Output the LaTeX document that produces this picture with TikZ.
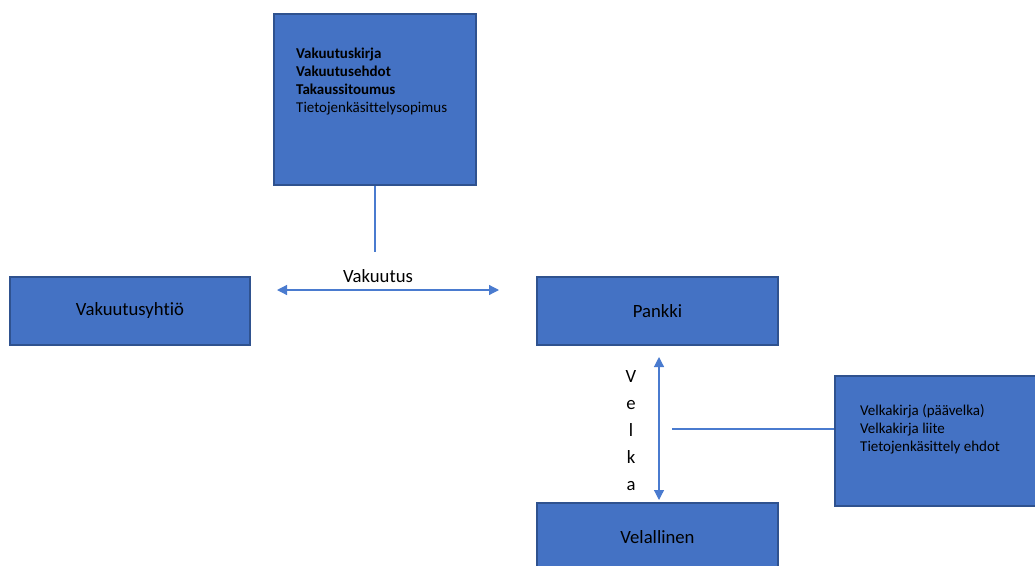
\documentclass[tikz,border=0pt]{standalone}
\usepackage{fontspec}
\setmainfont{Carlito}[Ligatures=NoCommon]
\usetikzlibrary{arrows.meta}
\definecolor{boxfill}{HTML}{4472C4}
\definecolor{boxline}{HTML}{2F528F}
\definecolor{link}{HTML}{4A7BCF}
\begin{document}
\begin{tikzpicture}[x=1pt,y=-1pt,
  box/.style={draw=boxline,fill=boxfill,line width=1.6pt,inner sep=0pt,
    font=\fontsize{18.7}{22}\selectfont},
  doclist/.style={anchor=north west,align=left,inner sep=0pt,
    font=\fontsize{15}{18}\selectfont},
  link/.style={draw=link,line width=1.2pt},
  dbl/.style={link,{Triangle[length=10pt,width=10pt]}-{Triangle[length=10pt,width=10pt]}},
  lbl/.style={inner sep=0pt,font=\fontsize{18.7}{22}\selectfont}]
\useasboundingbox (0,0) rectangle (1035,565);

% documents held by the insurer
\node[box,minimum width=202,minimum height=171] (docs) at (375,99.5) {};
\node[doclist] (docstext) at (296,48)
  {\textbf{Vakuutuskirja}\\\textbf{Vakuutusehdot}\\\textbf{Takaussitoumus}\\Tietojenkäsittelysopimus};

% parties
\node[box,minimum width=240,minimum height=68] (insurer) at (130,311) {Vakuutusyhtiö};
\node[box,minimum width=241,minimum height=68] (bank) at (657.5,311) {Pankki};
\node[box,minimum width=241,minimum height=68] (debtor) at (657.5,537) {Velallinen};

% loan documents
\node[box,minimum width=215,minimum height=130,anchor=north west] (loandocs) at (834,375) {};
\node[doclist] (loantext) at (860,404)
  {Velkakirja (päävelka)\\Velkakirja liite\\Tietojenkäsittely ehdot};

% insurance relation
\coordinate (insL) at (277,290);
\coordinate (insR) at (499,290);
\draw[dbl] (insL) -- (insR);
\node[lbl] (vak) at (378,276) {Vakuutus};
\coordinate (docfoot) at (375,252);
\draw[link] (docs.south) -- (docfoot);

% loan relation
\coordinate (loanT) at (659,357);
\coordinate (loanB) at (659,500);
\draw[dbl] (loanT) -- (loanB);
\node[lbl,align=center,font=\fontsize{18.7}{27}\selectfont] (velka) at (631,431) {V\\e\\l\\k\\a};
\coordinate (loanmid) at (672,429);
\draw[link] (loanmid) -- (loandocs.west |- loanmid);
\end{tikzpicture}
\end{document}
